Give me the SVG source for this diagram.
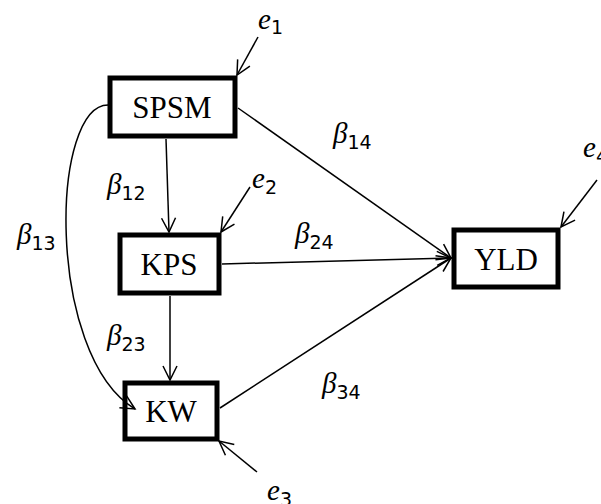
<svg xmlns="http://www.w3.org/2000/svg" width="601" height="504" viewBox="0 0 601 504">
<style>
.box{fill:#fff;stroke:#000;stroke-width:5}
.lbl{font-family:"Liberation Serif",serif;font-size:31px;text-anchor:middle;fill:#000}
.m{font-family:"Liberation Serif",serif;font-style:italic;font-size:29px;fill:#000}
.s{font-style:normal;font-family:"DejaVu Sans","Liberation Sans",sans-serif;font-size:19px}
.c{fill:none;stroke:#000;stroke-width:1.5}
</style>
<defs>
<marker id="ah" markerUnits="userSpaceOnUse" markerWidth="20" markerHeight="20" viewBox="0 0 20 20" refX="16" refY="10" orient="auto">
<path d="M2,3 L16,10 L2,17" fill="none" stroke="#000" stroke-width="1.5"/>
</marker>
</defs>
<g id="SPSM"><rect class="box" x="110" y="78" width="125" height="58"/><text class="lbl" x="172" y="118">SPSM</text></g>
<g id="KPS"><rect class="box" x="120" y="235" width="99" height="58"/><text class="lbl" x="169" y="275">KPS</text></g>
<g id="KW"><rect class="box" x="125" y="383" width="92" height="56"/><text class="lbl" x="171" y="422">KW</text></g>
<g id="YLD"><rect class="box" x="454" y="230" width="104" height="57"/><text class="lbl" x="506" y="270">YLD</text></g>
<g id="connectors">
<line class="c" x1="258" y1="37" x2="237" y2="75" marker-end="url(#ah)"/>
<line class="c" x1="166" y1="139" x2="169" y2="232" marker-end="url(#ah)"/>
<line class="c" x1="250" y1="187" x2="221" y2="232" marker-end="url(#ah)"/>
<line class="c" x1="170" y1="296" x2="170" y2="380" marker-end="url(#ah)"/>
<path class="c" d="M110,105 C50,100 45,355 135,409" marker-end="url(#ah)"/>
<line class="c" x1="257" y1="472" x2="219" y2="441" marker-end="url(#ah)"/>
<line class="c" x1="238" y1="108" x2="451" y2="258" marker-end="url(#ah)"/>
<line class="c" x1="222" y1="264" x2="451" y2="258" marker-end="url(#ah)"/>
<line class="c" x1="220" y1="408" x2="451" y2="258" marker-end="url(#ah)"/>
<line class="c" x1="597" y1="180" x2="561" y2="227" marker-end="url(#ah)"/>
</g>
<g id="labels">
<text class="m" x="258" y="29">e<tspan class="s" dy="5">1</tspan></text>
<text class="m" x="252" y="188">e<tspan class="s" dy="6">2</tspan></text>
<text class="m" x="267" y="500">e<tspan class="s" dy="6">3</tspan></text>
<text class="m" x="583" y="157">e<tspan class="s" dy="6">4</tspan></text>
<text class="m" x="107" y="194">β<tspan class="s" dy="6">12</tspan></text>
<text class="m" x="17" y="244">β<tspan class="s" dy="6">13</tspan></text>
<text class="m" x="107" y="345">β<tspan class="s" dy="6">23</tspan></text>
<text class="m" x="333" y="143">β<tspan class="s" dy="6">14</tspan></text>
<text class="m" x="295" y="243">β<tspan class="s" dy="6">24</tspan></text>
<text class="m" x="322" y="393">β<tspan class="s" dy="6">34</tspan></text>
</g>
</svg>
